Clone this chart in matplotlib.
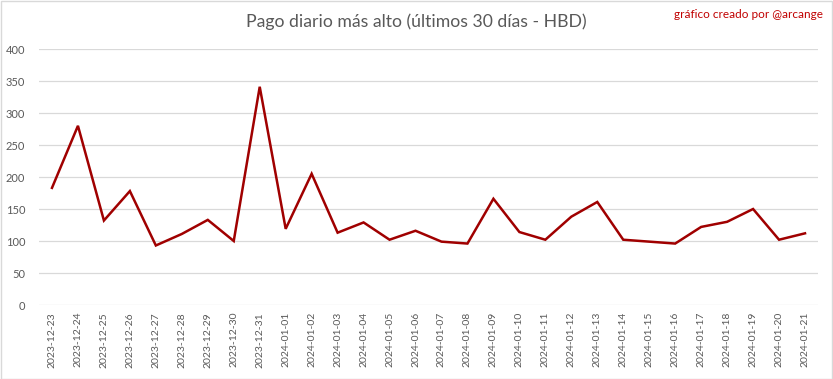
import matplotlib
matplotlib.use("Agg")
import matplotlib.pyplot as plt
from matplotlib.patches import Rectangle

plt.rcParams['font.family'] = ['Lato', 'DejaVu Sans']

fechas = ["2023-12-23", "2023-12-24", "2023-12-25", "2023-12-26", "2023-12-27",
          "2023-12-28", "2023-12-29", "2023-12-30", "2023-12-31", "2024-01-01",
          "2024-01-02", "2024-01-03", "2024-01-04", "2024-01-05", "2024-01-06",
          "2024-01-07", "2024-01-08", "2024-01-09", "2024-01-10", "2024-01-11",
          "2024-01-12", "2024-01-13", "2024-01-14", "2024-01-15", "2024-01-16",
          "2024-01-17", "2024-01-18", "2024-01-19", "2024-01-20", "2024-01-21"]
pago = [183, 280, 132, 178, 93, 111, 133, 100, 341, 119,
        205, 113, 129, 102, 116, 99, 96, 166, 114, 102,
        138, 161, 102, 99, 96, 122, 130, 150, 102, 112]
yticks = [0, 50, 100, 150, 200, 250, 300, 350, 400]

gris = '#595959'

fig = plt.figure(figsize=(8.33, 3.79), dpi=100)
ax = fig.add_axes([39/833, 1 - 305/379, (818-39)/833, (305-49)/379])

x = list(range(len(fechas)))
ax.plot(x, pago, color='#A00000', linewidth=1.8, solid_joinstyle='miter')

ax.set_xlim(-0.5, len(fechas) - 0.5)
ax.set_ylim(0, 400)
ax.set_yticks(yticks)
ax.set_xticks(x)
ax.set_xticklabels(fechas, rotation=90, fontsize=7.5, color=gris)
ax.tick_params(axis='y', labelsize=8, labelcolor=gris, length=0, pad=10)
ax.tick_params(axis='x', length=0, pad=5)
ax.grid(axis='y', color='#D9D9D9', linewidth=0.9)
ax.set_axisbelow(True)
for s in ax.spines.values():
    s.set_visible(False)

fig.text(416/833, 1 - 22/379, "Pago diario más alto (últimos 30 días - HBD)",
         ha='center', va='center', fontsize=12.7, color=gris)
fig.text(823/833, 1 - 15/379, "gráfico creado por @arcange",
         ha='right', va='center', fontsize=8.5, color='#C00000')

fig.patches.append(Rectangle((0.5/833, 0.5/379), 1 - 1.5/833, 1 - 1.5/379,
                             transform=fig.transFigure, fill=False,
                             edgecolor='#D9D9D9', linewidth=1))

fig.savefig("out.png", dpi=100)
